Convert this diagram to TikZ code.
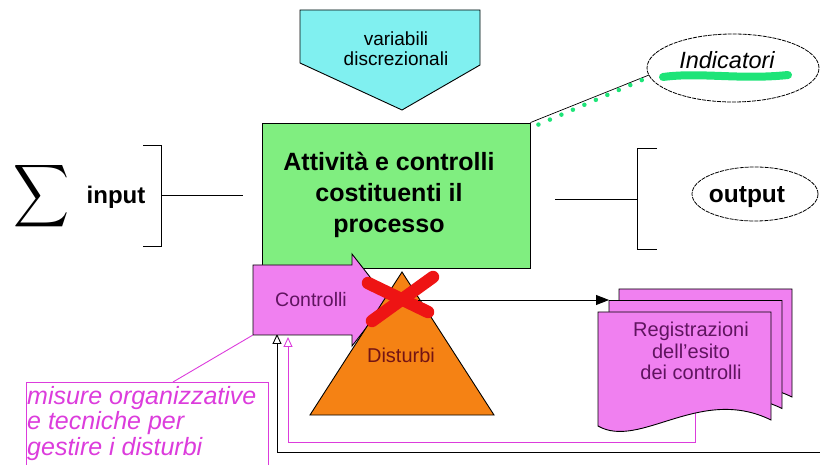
\documentclass[tikz,border=0pt]{standalone}
\usepackage{fontspec}
\setmainfont{Liberation Sans}
\usetikzlibrary{shapes.geometric,arrows.meta}
\definecolor{cyanfill}{RGB}{128,240,240}
\definecolor{greenfill}{RGB}{128,238,128}
\definecolor{pinkfill}{RGB}{240,128,240}
\definecolor{orangefill}{RGB}{245,130,20}
\definecolor{crossred}{RGB}{238,20,20}
\definecolor{hlgreen}{RGB}{30,228,120}
\definecolor{magline}{RGB}{220,60,220}
\definecolor{darkpurple}{RGB}{95,20,95}
\definecolor{darkred}{RGB}{115,20,20}
\tikzset{
  outl/.style={draw=black, line width=0.9pt, line join=miter},
  lbl/.style={inner sep=0pt, align=center},
  ovalbox/.style={ellipse, draw=black, line width=0.8pt, dash pattern=on 4pt off 1pt, inner sep=0pt},
  openarr/.style={-{Triangle[open,length=10pt,width=9pt]}},
}
\begin{document}
\begin{tikzpicture}[x=1pt,y=-1pt]
\useasboundingbox (0,0) rectangle (820,465);

% variabili discrezionali
\draw[outl, fill=cyanfill] (300,10) -- (480,10) -- (480,65) -- (402,110) -- (300,63) -- cycle;
\node[lbl, font=\fontsize{19}{20}\selectfont] (var) at (396,49) {variabili\\discrezionali};

% feedback loops (drawn first so they pass under the shapes)
\coordinate (blackstart) at (822,452);
\coordinate (blackcorner) at (277,452);
\coordinate (blacktip) at (277,334);
\draw[black, line width=0.9pt, openarr] (blackstart) -- (blackcorner) -- (blacktip);
\coordinate (magstart) at (695,405);
\coordinate (magcorner1) at (695,442);
\coordinate (magcorner2) at (288,442);
\coordinate (magtip) at (288,337);
\draw[magline, line width=0.9pt, openarr] (magstart) -- (magcorner1) -- (magcorner2) -- (magtip);

% process box
\node[outl, fill=greenfill, minimum width=268pt, minimum height=145pt, inner sep=0pt] (proc) at (396,195.5) {};
\node[lbl, font=\fontsize{25}{31}\selectfont\bfseries] (proctext) at (389,195) {Attività e controlli\\costituenti il\\processo};

% Indicatori
\node[ovalbox, minimum width=172pt, minimum height=68pt] (ind) at (733,68) {};
\draw[hlgreen, line width=8pt, line cap=round] (663,77) .. controls (700,72) and (740,80) .. (788,75);
\node[lbl, font=\fontsize{23.5}{25}\selectfont\itshape] (indtext) at (727,60) {Indicatori};
\coordinate (dotA) at (proc.north east);
\coordinate (dotB) at (649,75);
\draw[black, line width=0.7pt] (dotA) -- (dotB);
\draw[hlgreen, line width=4.5pt, line cap=round, dash pattern=on 0pt off 12.5pt] ([yshift=-2pt]dotA) ++(8,0) -- ([yshift=-2pt]dotB);

% input side
\node[lbl] (sigma) at (42,196) {\resizebox{56pt}{46pt}{$\displaystyle\sum$}};
\node[lbl, font=\fontsize{24}{26}\selectfont\bfseries] (input) at (116,197) {input};
\draw[outl] (143,145) -- (161,145) -- (161,246) -- (143,246);
\coordinate (inA) at (161,195);
\coordinate (inB) at (243,195);
\draw[outl] (inA) -- (inB);

% output side
\coordinate (outA) at (555,199);
\coordinate (outB) at (637,199);
\draw[outl] (outA) -- (outB);
\draw[outl] (657,148) -- (637,148) -- (637,249) -- (657,249);
\node[ovalbox, minimum width=126pt, minimum height=54pt] (outell) at (755,194) {};
\node[lbl, font=\fontsize{24.5}{26}\selectfont\bfseries] (outtext) at (747,197) {output};

% Controlli block arrow
\draw[outl, fill=pinkfill] (253,265) -- (352,265) -- (352,254) -- (388,300) -- (352,346) -- (352,335) -- (253,335) -- cycle;
\node[lbl, font=\fontsize{19.5}{21}\selectfont, text=darkpurple] (ctrl) at (311,300) {Controlli};

% Disturbi triangle
\draw[outl, fill=orangefill] (402,272) -- (494,415) -- (310,415) -- cycle;
\node[lbl, font=\fontsize{20}{22}\selectfont, text=darkred] (dist) at (401,355) {Disturbi};

% red cross
\draw[crossred, line width=12.5pt, line cap=round] (368,283) -- (428,312);
\draw[crossred, line width=12.5pt, line cap=round] (433,277) -- (372,321);
\coordinate (xc) at (418,300);

% documents stack
\foreach \dx/\dy in {21/-23, 11/-11.5, 0/0} {
  \begin{scope}[shift={(\dx,\dy)}]
    \draw[outl, fill=pinkfill] (598,312) -- (771,312) -- (771,420)
      .. controls (700,385) and (640,450) .. (598,426) -- cycle;
  \end{scope}
}
\coordinate (docin) at (609,300);
\draw[black, line width=0.9pt, -{Triangle[length=13pt,width=10pt]}] (xc) -- (docin);
\node[lbl, font=\fontsize{20}{21.5}\selectfont, text=darkpurple] (reg) at (691,351) {Registrazioni\\dell'esito\\dei controlli};

% callout
\draw[magline, line width=0.9pt] (26,467) -- (26,382) -- (268,382) -- (268,467);
\node[lbl, align=left, anchor=north west, font=\fontsize{25}{25.5}\selectfont\itshape, text=magline] (misure) at (27,386) {misure organizzative\\e tecniche per\\gestire i disturbi};
\coordinate (calloutTop) at (173,382);
\coordinate (ctrlCorner) at (253,335);
\draw[magline, line width=0.9pt] (calloutTop) -- (ctrlCorner);
\end{tikzpicture}
\end{document}
